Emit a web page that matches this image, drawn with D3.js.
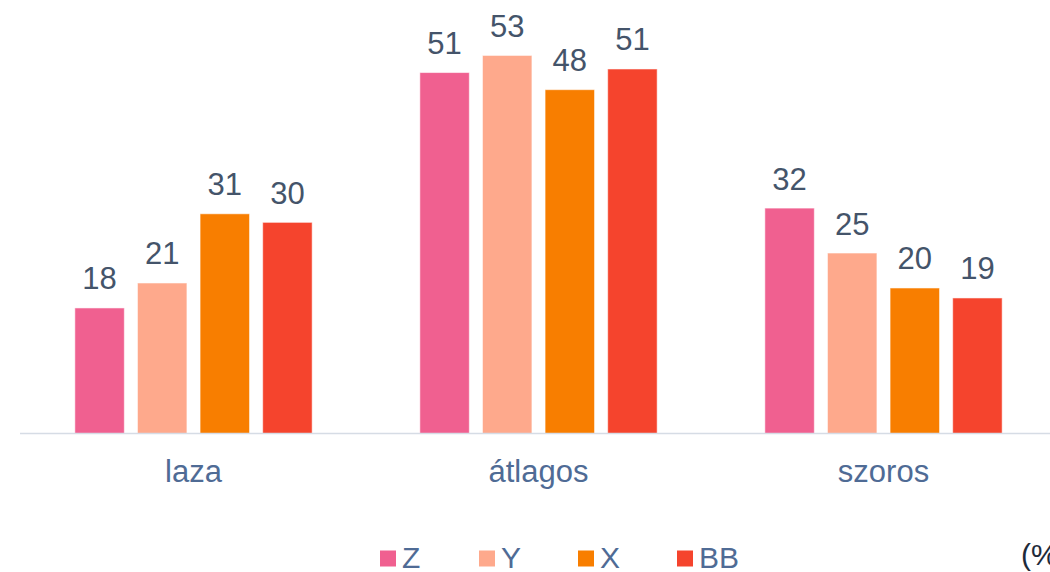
<!DOCTYPE html>
<html>
<head>
<meta charset="utf-8">
<script src="https://cdn.jsdelivr.net/npm/d3@7"></script>
<style>
  html, body { margin: 0; padding: 0; background: #ffffff; overflow: hidden; }
  svg { display: block; font-family: "Liberation Sans", Arial, sans-serif; }
</style>
</head>
<body>
<svg id="chart" width="1050" height="572"></svg>
<script>
const categories = ["laza", "átlagos", "szoros"];
const series = ["Z", "Y", "X", "BB"];
const valuesZ  = [17.6, 50.6, 31.6];
const valuesY  = [21.1, 53.0, 25.3];
const valuesX  = [30.8, 48.2, 20.4];
const valuesBB = [29.6, 51.1, 19.0];
const seriesValues = [valuesZ, valuesY, valuesX, valuesBB];
const colors = ["#F06090", "#FEA98C", "#F87E00", "#F5442D"];
const unitLabel = "(%)";

const svg = d3.select("#chart");
const baseY = 433.5;
const fontSize = "31px";
const legendFontSize = "30px";

const x0 = d3.scaleBand().domain(categories).range([21, 1056]);
const x1 = d3.scaleBand().domain(series).range([0, x0.bandwidth()])
  .paddingInner(0.21).paddingOuter(0.86);
const y = d3.scaleLinear().domain([0, 60]).range([baseY, 5.5]);
const color = d3.scaleOrdinal().domain(series).range(colors);
const fmt = d3.format(".0f");

const data = categories.map((c, i) => ({
  cat: c,
  vals: series.map((s, j) => ({ s, v: seriesValues[j][i] }))
}));

const groups = svg.append("g").selectAll("g").data(data).join("g")
  .attr("transform", d => `translate(${x0(d.cat)},0)`);

groups.selectAll("rect").data(d => d.vals).join("rect")
  .attr("x", d => x1(d.s))
  .attr("y", d => y(d.v))
  .attr("width", x1.bandwidth())
  .attr("height", d => baseY - y(d.v))
  .attr("fill", d => color(d.s))
  .attr("stroke", "rgba(255,255,255,0.55)")
  .attr("stroke-width", 1);

groups.selectAll("text").data(d => d.vals).join("text")
  .attr("x", d => x1(d.s) + x1.bandwidth() / 2)
  .attr("y", d => y(d.v) - 18.5)
  .attr("text-anchor", "middle")
  .attr("font-size", fontSize)
  .attr("fill", "#44546A")
  .text(d => fmt(d.v));

const axis = svg.append("g")
  .attr("transform", `translate(0,${baseY})`)
  .call(d3.axisBottom(x0).tickSize(0).tickPadding(0));
axis.select(".domain").attr("stroke", "#D6DCE5").attr("stroke-width", 1.5)
  .attr("d", `M${x0.range()[0] - 1},0H${x0.range()[1]}`);
axis.selectAll(".tick text")
  .attr("font-size", fontSize)
  .attr("font-family", "Liberation Sans, Arial, sans-serif")
  .attr("fill", "#4F6B95")
  .attr("dy", null)
  .attr("y", 48.5);

const lx = d3.scalePoint().domain(series).range([380, 677]);
const legend = svg.append("g").selectAll("g").data(series).join("g")
  .attr("transform", d => `translate(${lx(d)},0)`);
legend.append("rect")
  .attr("x", 0).attr("y", 550.5).attr("width", 16).attr("height", 16)
  .attr("fill", d => color(d));
legend.append("text")
  .attr("x", 22).attr("y", 567.5)
  .attr("font-size", legendFontSize)
  .attr("fill", "#4F6B95")
  .text(d => d);

svg.append("text")
  .attr("x", 1021).attr("y", 565)
  .attr("font-size", legendFontSize)
  .attr("fill", "#1E2B3A")
  .text(unitLabel);
</script>
</body>
</html>
